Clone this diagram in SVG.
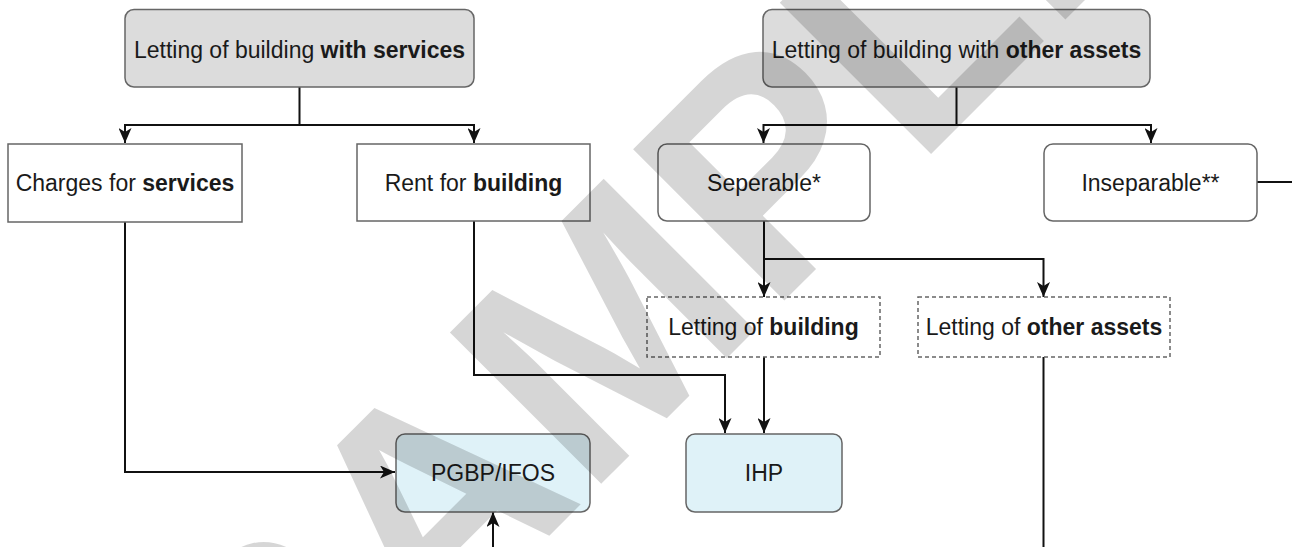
<svg xmlns="http://www.w3.org/2000/svg" width="1292" height="547" viewBox="0 0 1292 547">
<style>
  .t { font-family: "Liberation Sans", Arial, sans-serif; font-size: 23px; fill: #1a1a1a; text-anchor: middle; }
  .b { font-weight: bold; }
  .gray { fill: #dcdcdc; stroke: #666; stroke-width: 1.5; }
  .plain { fill: #ffffff; stroke: #666; stroke-width: 1.5; }
  .dash { fill: #ffffff; stroke: #666; stroke-width: 1.5; stroke-dasharray: 4 3; }
  .blue { fill: #dff2f8; stroke: #666; stroke-width: 1.5; }
  .c { fill: none; stroke: #111; stroke-width: 2; }
  .wm { font-family: "Liberation Sans", Arial, sans-serif; font-weight: bold; font-size: 311px; fill: #000; fill-opacity: 0.16; }
</style>
<defs>
  <marker id="arr" markerUnits="userSpaceOnUse" markerWidth="16" markerHeight="13" refX="15" refY="6.5" orient="auto">
    <path d="M0,0 L15,6.5 L0,13 L4,6.5 z" fill="#111"/>
  </marker>
</defs>
<rect width="1292" height="547" fill="#ffffff"/>

<g id="connectors">
  <path class="c" d="M299.5,87 V125 H125 V143" marker-end="url(#arr)"/>
  <path class="c" d="M299.5,125 H474 V143" marker-end="url(#arr)"/>
  <path class="c" d="M956.5,87 V125 H763.5 V143" marker-end="url(#arr)"/>
  <path class="c" d="M956.5,125 H1151 V143" marker-end="url(#arr)"/>
  <path class="c" d="M1257,182 H1292"/>
  <path class="c" d="M125,222 V472 H395" marker-end="url(#arr)"/>
  <path class="c" d="M474,221 V375 H725 V433" marker-end="url(#arr)"/>
  <path class="c" d="M764,221 V297" marker-end="url(#arr)"/>
  <path class="c" d="M764,259 H1043.5 V297" marker-end="url(#arr)"/>
  <path class="c" d="M764,357 V433" marker-end="url(#arr)"/>
  <path class="c" d="M1043.5,357 V547"/>
  <path class="c" d="M493,547 V512" marker-end="url(#arr)"/>
</g>

<g id="n-with-services">
  <rect class="gray" x="125" y="9.5" width="349" height="77.5" rx="9"/>
  <text class="t" x="299.5" y="58">Letting of building <tspan class="b">with services</tspan></text>
</g>
<g id="n-other-assets">
  <rect class="gray" x="763" y="9.5" width="387" height="77.5" rx="9"/>
  <text class="t" x="956.5" y="58">Letting of building with <tspan class="b">other assets</tspan></text>
</g>
<g id="n-charges">
  <rect class="plain" x="8" y="144" width="234" height="78"/>
  <text class="t" x="125" y="191">Charges for <tspan class="b">services</tspan></text>
</g>
<g id="n-rent">
  <rect class="plain" x="357" y="144" width="233" height="77"/>
  <text class="t" x="473.5" y="191">Rent for <tspan class="b">building</tspan></text>
</g>
<g id="n-seperable">
  <rect class="plain" x="658" y="144" width="212" height="77" rx="9"/>
  <text class="t" x="764" y="191">Seperable*</text>
</g>
<g id="n-inseparable">
  <rect class="plain" x="1044" y="144" width="213" height="77" rx="9"/>
  <text class="t" x="1150.5" y="191">Inseparable**</text>
</g>
<g id="n-letting-building">
  <rect class="dash" x="647" y="297" width="233" height="60"/>
  <text class="t" x="763.5" y="335">Letting of <tspan class="b">building</tspan></text>
</g>
<g id="n-letting-other">
  <rect class="dash" x="918" y="297" width="252" height="60"/>
  <text class="t" x="1044" y="335">Letting of <tspan class="b">other assets</tspan></text>
</g>
<g id="n-pgbp">
  <rect class="blue" x="396" y="434" width="194" height="78" rx="9"/>
  <text class="t" x="493" y="481">PGBP/IFOS</text>
</g>
<g id="n-ihp">
  <rect class="blue" x="686" y="434" width="156" height="78" rx="9"/>
  <text class="t" x="764" y="481">IHP</text>
</g>

<text class="wm" transform="translate(281,804) rotate(-45)">SAMPLE</text>
</svg>
